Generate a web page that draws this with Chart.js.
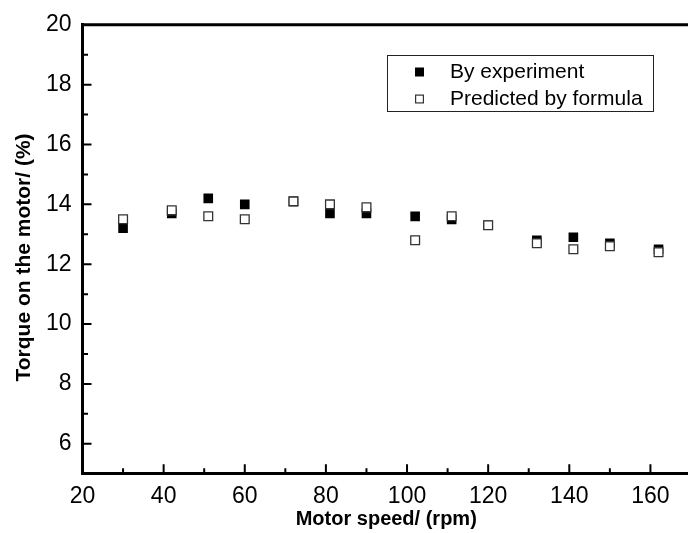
<!DOCTYPE html>
<html>
<head>
<meta charset="utf-8">
<title>Motor torque vs speed</title>
<script src="https://cdn.jsdelivr.net/npm/chart.js@4/dist/chart.umd.min.js"></script>
<style>
  html, body { margin: 0; padding: 0; background: #fff; overflow: hidden; }
  #wrap { width: 700px; height: 533px; }
</style>
</head>
<body>
<div id="wrap"><canvas id="chart" width="700" height="533"></canvas></div>
<script>
// motor speed (rpm) and torque (%) readings
const speeds = [30, 42, 51, 60, 72, 81, 90, 102, 111, 120, 132, 141, 150, 162];
const torqueMeasured = [13.2, 13.7, 14.2, 14.0, 14.1, 13.7, 13.7, 13.6, 13.5, 13.3, 12.8, 12.9, 12.7, 12.5];
const torquePredicted = [13.5, 13.8, 13.6, 13.5, 14.1, 14.0, 13.9, 12.8, 13.6, 13.3, 12.7, 12.5, 12.6, 12.4];
const seriesNames = ['By experiment', 'Predicted by formula'];
const xRange = [20, 170];
const yRange = [5, 20];
const xTitle = 'Motor speed/ (rpm)';
const yTitle = 'Torque on the motor/ (%)';

const FONT = '"Liberation Sans", Arial, sans-serif';

const toPoints = (xs, ys) => xs.map((x, i) => ({ x: x, y: ys[i] }));

// inward ticks, top/right frame and axis titles
const frame = {
    id: 'frame',
    afterDraw(chart) {
        const { ctx, chartArea: a, scales } = chart;
        ctx.save();
        ctx.strokeStyle = '#000';
        ctx.lineWidth = 3;
        ctx.beginPath();
        ctx.moveTo(a.left - 1.5, a.top);
        ctx.lineTo(a.right + 1.5, a.top);
        ctx.moveTo(a.right, a.top);
        ctx.lineTo(a.right, a.bottom);
        ctx.stroke();

        ctx.lineWidth = 2;
        ctx.beginPath();
        scales.x.ticks.forEach(t => {
            if (t.value <= xRange[0] || t.value >= xRange[1]) return;
            const px = scales.x.getPixelForValue(t.value);
            const len = t.value % 20 === 0 ? 9.5 : 5.5;
            ctx.moveTo(px, a.bottom);
            ctx.lineTo(px, a.bottom - len);
        });
        scales.y.ticks.forEach(t => {
            if (t.value <= yRange[0] || t.value >= yRange[1]) return;
            const py = scales.y.getPixelForValue(t.value);
            const len = t.value % 2 === 0 ? 9 : 5.5;
            ctx.moveTo(a.left, py);
            ctx.lineTo(a.left + len, py);
        });
        ctx.stroke();

        ctx.fillStyle = '#000';
        ctx.textAlign = 'center';
        ctx.textBaseline = 'middle';
        ctx.font = 'bold 20px ' + FONT;
        ctx.fillText(xTitle, (a.left + a.right) / 2 - 0.5, 519);

        ctx.translate(24.4, 257.5);
        ctx.rotate(-Math.PI / 2);
        ctx.font = 'bold 21px ' + FONT;
        ctx.fillText(yTitle, 0, 0);
        ctx.restore();
    }
};

// boxed legend inside the plot
const boxLegend = {
    id: 'boxLegend',
    afterDraw(chart) {
        const { ctx } = chart;
        ctx.save();
        ctx.strokeStyle = '#222';
        ctx.lineWidth = 1;
        ctx.strokeRect(387.5, 55.5, 266, 56);

        ctx.font = '21px ' + FONT;
        ctx.textAlign = 'left';
        ctx.textBaseline = 'middle';
        chart.data.datasets.forEach((ds, i) => {
            const cy = 72 + i * 27;
            if (ds.borderWidth > 0) {
                ctx.fillStyle = '#fff';
                ctx.fillRect(415, cy - 4.5, 9, 9);
                ctx.strokeStyle = ds.borderColor;
                ctx.lineWidth = 1.2;
                ctx.strokeRect(415.6, cy - 3.9, 7.8, 7.8);
            } else {
                ctx.fillStyle = ds.backgroundColor;
                ctx.fillRect(415, cy - 4.5, 9, 9);
            }
            ctx.fillStyle = '#000';
            ctx.fillText(ds.label, 450, cy);
        });
        ctx.restore();
    }
};

new Chart(document.getElementById('chart'), {
    type: 'scatter',
    data: {
        datasets: [
            {
                label: seriesNames[0],
                data: toPoints(speeds, torqueMeasured),
                pointStyle: 'rect',
                pointRadius: 6.8,
                backgroundColor: '#000',
                borderColor: '#000',
                borderWidth: 0,
                order: 1
            },
            {
                label: seriesNames[1],
                data: toPoints(speeds, torquePredicted),
                pointStyle: 'rect',
                pointRadius: 6.2,
                backgroundColor: '#fff',
                borderColor: '#333',
                borderWidth: 1.3,
                order: 0
            }
        ]
    },
    options: {
        responsive: false,
        animation: false,
        devicePixelRatio: 1,
        layout: { padding: { top: 18.3, right: 8, left: 0, bottom: 0 } },
        plugins: {
            legend: { display: false },
            tooltip: { enabled: false }
        },
        scales: {
            x: {
                type: 'linear',
                min: xRange[0],
                max: xRange[1],
                afterFit: s => { s.height = 59.3; },
                grid: { display: false, drawTicks: false },
                border: { display: true, color: '#000', width: 3 },
                ticks: {
                    stepSize: 10,
                    autoSkip: false,
                    maxRotation: 0,
                    padding: 9,
                    color: '#000',
                    font: { family: FONT, size: 23 },
                    callback: v => (v % 20 === 0 && v < xRange[1]) ? v : ''
                }
            },
            y: {
                min: yRange[0],
                max: yRange[1],
                afterFit: s => { s.width = 82.5; },
                grid: { display: false, drawTicks: false },
                border: { display: true, color: '#000', width: 3 },
                ticks: {
                    stepSize: 1,
                    autoSkip: false,
                    padding: 11,
                    color: '#000',
                    font: { family: FONT, size: 23 },
                    callback: v => (v % 2 === 0 && v > yRange[0]) ? v : ''
                }
            }
        }
    },
    plugins: [frame, boxLegend]
});
</script>
</body>
</html>
